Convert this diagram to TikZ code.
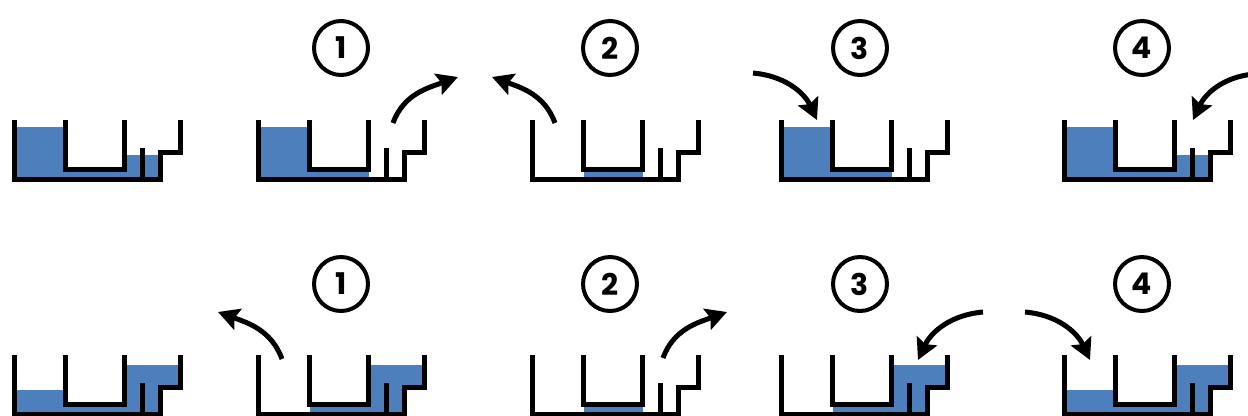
\documentclass[tikz,border=0pt]{standalone}
\usepackage{fontspec}
\newfontfamily\numfont{Poppins}
\usetikzlibrary{arrows.meta}
\definecolor{water}{RGB}{76,127,188}

\tikzset{
  wall/.style={line width=0.1cm, line join=miter, line cap=butt},
  flow/.style={line width=0.1cm, -{Stealth[length=0.42cm,width=0.44cm,inset=0.07cm]}},
  badge/.style={circle, draw, line width=0.08cm, minimum size=1.08cm, inner sep=0pt,
    font=\numfont\bfseries\fontsize{17}{17}\selectfont},
  % vessel outline: outer wall with a step, inner U and a short post
  vessel/.pic={
    \draw[wall] (2.5,0) |- (148.5,59.5) |- (168.5,32.5) -- (168.5,0);
    \draw[wall] (53.5,0) |- (112.5,49.5) -- (112.5,0);
    \draw[wall] (130.5,28) -- (130.5,59.5);
  },
  % water bodies
  lefthigh/.pic={\fill[water] (2.5,7) rectangle (53.5,59.5);},
  leftlow/.pic={\fill[water] (2.5,35) rectangle (53.5,59.5);},
  chanleft/.pic={\fill[water] (2.5,49.5) rectangle (112.5,59.5);},
  chanfull/.pic={\fill[water] (2.5,49.5) rectangle (148.5,59.5);},
  chanright/.pic={\fill[water] (53.5,49.5) rectangle (148.5,59.5);},
  underU/.pic={\fill[water] (53.5,49.5) rectangle (112.5,59.5);},
  rightlow/.pic={\fill[water] (112.5,35) rectangle (148.5,59.5);},
  rightfull/.pic={\fill[water] (112.5,10) -- (168.5,10) -- (168.5,32.5) -- (148.5,32.5)
      -- (148.5,59.5) -- (112.5,59.5) -- cycle;},
  % complete states
  stateA/.pic={\pic{lefthigh}; \pic{chanfull}; \pic{rightlow}; \pic{vessel};},
  stateB/.pic={\pic{lefthigh}; \pic{chanleft}; \pic{vessel};},
  stateC/.pic={\pic{underU}; \pic{vessel};},
  stateD/.pic={\pic{leftlow}; \pic{chanfull}; \pic{rightfull}; \pic{vessel};},
  stateE/.pic={\pic{chanright}; \pic{rightfull}; \pic{vessel};},
}

\begin{document}
\begin{tikzpicture}[x=0.02cm, y=-0.02cm]
\useasboundingbox (0,0) rectangle (1248,416);

% upper sequence
\pic (t0) at (12,120) {stateA};
\pic (t1) at (256,120) {stateB};
\pic (t2) at (530,120) {stateC};
\pic (t3) at (779,120) {stateB};
\pic (t4) at (1062,120) {stateA};

\node[badge] (n1) at (341,48) {1};
\node[badge] (n2) at (610,48) {2};
\node[badge] (n3) at (860,48) {3};
\node[badge] (n4) at (1142,48) {4};

\coordinate (u1s) at (393,123); \coordinate (u1e) at (458,77);
\coordinate (u2s) at (555,123); \coordinate (u2e) at (492,77);
\coordinate (u3s) at (753,73);  \coordinate (u3e) at (817,120);
\coordinate (u4s) at (1254,74); \coordinate (u4e) at (1193,120);
\draw[flow] (u1s) to[out=70,in=200] (u1e);
\draw[flow] (u2s) to[out=110,in=-20] (u2e);
\draw[flow] (u3s) to[out=-5,in=115] (u3e);
\draw[flow] (u4s) to[out=185,in=65] (u4e);

% lower sequence
\pic (b0) at (12,355) {stateD};
\pic (b1) at (256,355) {stateE};
\pic (b2) at (530,355) {stateC};
\pic (b3) at (779,355) {stateE};
\pic (b4) at (1062,355) {stateD};

\node[badge] (m1) at (341,284) {1};
\node[badge] (m2) at (610,284) {2};
\node[badge] (m3) at (860,284) {3};
\node[badge] (m4) at (1142,284) {4};

\coordinate (d1s) at (282,359); \coordinate (d1e) at (218,312);
\coordinate (d2s) at (663,358); \coordinate (d2e) at (727,312);
\coordinate (d3s) at (983,312); \coordinate (d3e) at (918,360);
\coordinate (d4s) at (1025,312); \coordinate (d4e) at (1090,360);
\draw[flow] (d1s) to[out=110,in=-20] (d1e);
\draw[flow] (d2s) to[out=70,in=200] (d2e);
\draw[flow] (d3s) to[out=185,in=65] (d3e);
\draw[flow] (d4s) to[out=-5,in=115] (d4e);
\end{tikzpicture}
\end{document}
